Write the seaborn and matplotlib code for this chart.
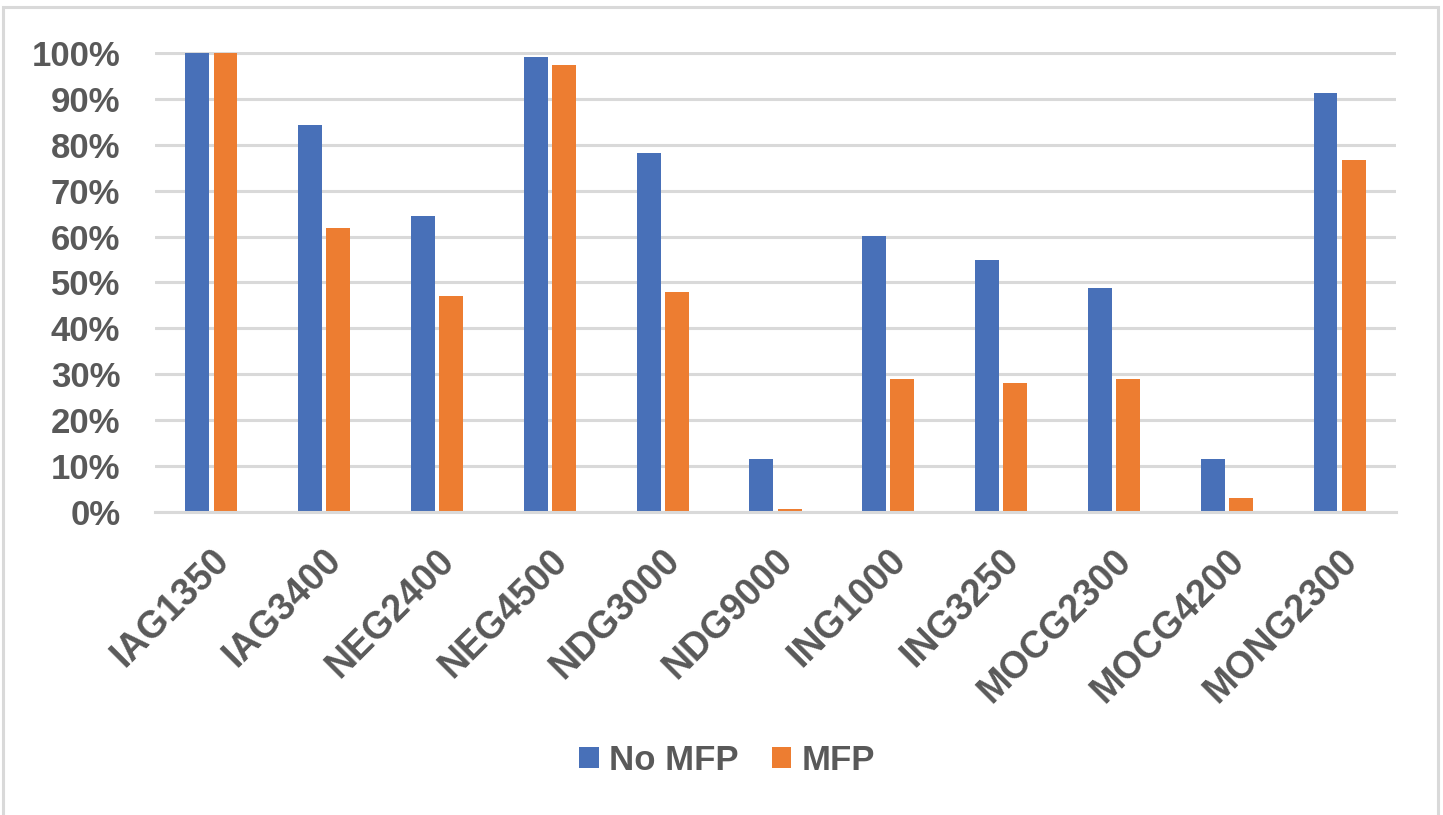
import pandas as pd
import seaborn as sns
import matplotlib.pyplot as plt
import matplotlib.transforms as mtransforms
from matplotlib.patches import Rectangle
from matplotlib.ticker import PercentFormatter

categories = ['IAG1350', 'IAG3400', 'NEG2400', 'NEG4500', 'NDG3000', 'NDG9000',
              'ING1000', 'ING3250', 'MOCG2300', 'MOCG4200', 'MONG2300']
no_mfp = [1.000, 0.844, 0.645, 0.991, 0.783, 0.116, 0.601, 0.549, 0.488, 0.116, 0.913]
mfp = [1.000, 0.619, 0.471, 0.974, 0.480, 0.007, 0.289, 0.281, 0.289, 0.030, 0.766]
series = ['No MFP', 'MFP']
colors = ['#4870B8', '#ED7D31']

text_color = '#595959'
grid_color = '#D9D9D9'


def plot():
    df = pd.DataFrame({
        'test': categories * 2,
        'value': no_mfp + mfp,
        'mode': [series[0]] * len(categories) + [series[1]] * len(categories),
    })

    sns.set_style('white')
    plt.rcParams['font.family'] = ['Liberation Sans', 'DejaVu Sans']
    plt.rcParams['font.weight'] = 'bold'

    fig = plt.figure(figsize=(14.43, 8.15), dpi=100)
    ax = fig.add_axes([155 / 1443, 1 - 512 / 815, (1396 - 155) / 1443, (512 - 52) / 815])

    g = sns.barplot(data=df, x='test', y='value', hue='mode', order=categories,
                    hue_order=series, palette=colors, width=0.5, gap=0.15,
                    linewidth=0, saturation=1, ax=ax)

    g.set_ylim(0, 1.002)
    g.set_yticks([i / 10 for i in range(11)])
    g.yaxis.set_major_formatter(PercentFormatter(1.0, decimals=0))
    g.yaxis.grid(True, color=grid_color, linewidth=2.2)
    g.set_axisbelow(True)
    for side in ['top', 'right', 'left']:
        g.spines[side].set_visible(False)
    g.spines['bottom'].set_color(grid_color)
    g.spines['bottom'].set_linewidth(2.2)
    g.set(xlabel='', ylabel='')

    g.tick_params(axis='y', length=0, pad=25, labelsize=25, labelcolor=text_color)
    g.tick_params(axis='x', length=0, pad=31, labelsize=27, labelcolor=text_color)
    shift = mtransforms.ScaledTranslation(0.12, 0, fig.dpi_scale_trans)
    for lbl in g.get_xticklabels():
        lbl.set_rotation(45)
        lbl.set_ha('right')
        lbl.set_va('center')
        lbl.set_rotation_mode('anchor')
        lbl.set_fontweight('bold')
        lbl.set_transform(lbl.get_transform() + shift)
    for lbl in g.get_yticklabels():
        lbl.set_fontweight('bold')

    handles, labels = g.get_legend_handles_labels()
    g.legend_.remove()
    leg = fig.legend(handles, labels, loc='center', bbox_to_anchor=(727 / 1443, 1 - 760 / 815),
                     ncol=2, frameon=False, prop={'size': 25, 'weight': 'bold'},
                     handlelength=0.57, handleheight=0.57, handletextpad=0.3,
                     columnspacing=0.95)
    for t in leg.get_texts():
        t.set_color(text_color)

    fig.patches.append(Rectangle((3 / 1443, -0.02), (1438 - 3) / 1443, (815 - 7.5) / 815 + 0.02,
                                 transform=fig.transFigure, fill=False,
                                 edgecolor=grid_color, linewidth=2.2))

    plt.savefig('out.png', dpi=100)


if __name__ == '__main__':
    plot()
